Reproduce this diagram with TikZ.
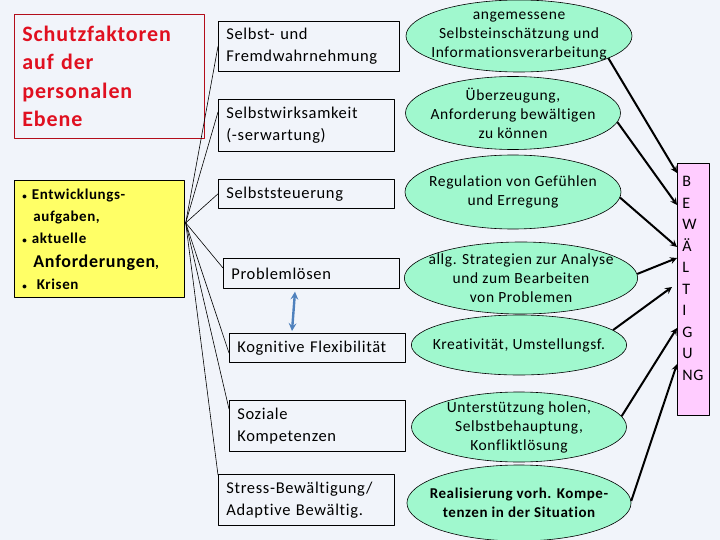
\documentclass[tikz,border=0pt]{standalone}
\usepackage{fontspec}
\setmainfont{Carlito}[LetterSpace=4,Ligatures=NoCommon]
\usetikzlibrary{shapes.geometric,calc}
\definecolor{grund}{RGB}{241,244,250}
\definecolor{minze}{RGB}{160,248,206}
\definecolor{gelb}{RGB}{255,255,102}
\definecolor{rosa}{RGB}{255,204,255}
\definecolor{titelrot}{RGB}{224,16,32}
\definecolor{stahlblau}{RGB}{79,129,189}
\begin{document}
\begin{tikzpicture}[x=1pt,y=-1pt,>=stealth,line join=round,
	kasten/.style n args={3}{draw,line width=0.7pt,fill=grund,anchor=north west,align=left,
		inner xsep=8pt,inner ysep=0pt,minimum width=#1pt,minimum height=#2pt,text width=#3pt,
		font=\fontsize{16.5}{22}\selectfont},
	oval/.style={ellipse,draw,line width=0.6pt,fill=minze,inner sep=-10pt,align=center,
		font=\fontsize{15.5}{19}\selectfont},
	pfeil/.style={->,line width=2pt},
	linie/.style={line width=0.6pt}]
	\fill[grund] (0,0) rectangle (720,540);
	\useasboundingbox (0,0) rectangle (720,540);
	% linke Spalte
	\node[draw=titelrot!80!black,line width=0.7pt,anchor=north west,align=left,inner xsep=8pt,
		minimum width=190pt,minimum height=124pt,text width=174pt,text=titelrot,
		font=\bfseries\fontsize{22}{28.5}\selectfont] (titel) at (14,14)
		{Schutzfaktoren\\auf der\\personalen\\Ebene};
	\node[draw,line width=0.7pt,fill=gelb,anchor=north west,align=left,inner xsep=8pt,
		minimum width=170pt,minimum height=117pt,text width=154pt,
		font=\bfseries\fontsize{15}{22}\selectfont] (anford) at (14,180)
		{{\small•} Entwicklungs-\\\hspace*{11pt}aufgaben,\\{\small•} aktuelle\\[2pt]
		\hspace*{11pt}{\fontsize{18}{22}\selectfont Anforderungen},\\{\small•} \ Krisen};
	% mittlere Spalte
	\node[kasten={181}{50}{165}] (b1) at (218,21) {Selbst- und\\Fremdwahrnehmung};
	\node[kasten={176}{52}{160}] (b2) at (218,99) {Selbstwirksamkeit\\(-serwartung)};
	\node[kasten={176}{29}{160}] (b3) at (218,179) {Selbststeuerung};
	\node[kasten={176}{30}{160}] (b4) at (223,258) {Problemlösen};
	\node[kasten={176}{29}{160}] (b5) at (229,333) {Kognitive Flexibilität};
	\node[kasten={176}{51}{160}] (b6) at (229,400) {Soziale\\Kompetenzen};
	\node[kasten={176}{51}{160}] (b7) at (218,474) {Stress-Bewältigung/\\Adaptive Bewältig.};
	\coordinate (knoten) at ($(anford.east)+(1,-16)$);
	\draw[linie] (knoten) -- (b1.west);
	\draw[linie] (knoten) -- ($(b2.north west)+(0,13)$);
	\draw[linie] (knoten) -- (b3.west);
	\draw[linie] (knoten) -- ($(b4.north west)+(0,10)$);
	\draw[linie] (knoten) -- ($(b5.north west)+(0,20)$);
	\draw[linie] (knoten) -- ($(b6.north west)+(0,9)$);
	\draw[linie] (knoten) -- ($(b7.north west)+(0,1)$);
	\draw[<->,line width=2.4pt,stahlblau] ($(b4.south west)+(72,3)$) -- ($(b5.north west)+(63,-2)$);
	% Ellipsen
	\node[oval,minimum width=226pt,minimum height=72pt] (e1) at (519,36)
		{angemessene\\Selbsteinschätzung und\\Informationsverarbeitung};
	\node[oval,minimum width=215pt,minimum height=73pt] (e2) at (513,113)
		{Überzeugung,\\Anforderung bewältigen\\zu können};
	\node[oval,minimum width=216pt,minimum height=74pt] (e3) at (513,192)
		{Regulation von Gefühlen\\und Erregung};
	\node[oval,minimum width=218pt,minimum height=72pt] (e4) at (521,278)
		{allg. Strategien zur Analyse\\und zum Bearbeiten\\von Problemen};
	\node[oval,minimum width=215pt,minimum height=60pt] (e5) at (519,345)
		{Kreativität, Umstellungsf.};
	\node[oval,minimum width=215pt,minimum height=70pt] (e6) at (519,427)
		{Unterstützung holen,\\Selbstbehauptung,\\Konfliktlösung};
	\node[oval,minimum width=215pt,minimum height=76pt,font=\bfseries\fontsize{15}{19}\selectfont] (e7) at (519,503)
		{Realisierung vorh. Kompe-\\tenzen in der Situation};
	% rechte Spalte
	\node[draw,line width=0.7pt,fill=rosa,anchor=north west,align=left,inner xsep=5pt,
		minimum width=30pt,minimum height=252pt,text width=22pt,
		font=\fontsize{16}{21.5}\selectfont] (bew) at (677,163)
		{B\\E\\W\\Ä\\L\\T\\I\\G\\U\\NG\\\mbox{}};
	\draw[pfeil] (e1.-14) -- ($(bew.north west)+(0,10)$);
	\draw[pfeil] (e2.-5) -- ($(bew.north west)+(0,42)$);
	\draw[pfeil] (e3.-3) -- ($(bew.north west)+(0,84)$);
	\draw[pfeil] (e4.2) -- ($(bew.north west)+(0,95)$);
	\draw[pfeil] (e5.9) -- ($(bew.north west)+(-5,124)$);
	\draw[pfeil] (e6.6) -- ($(bew.north west)+(0,165)$);
	\draw[pfeil] (e7.1) -- ($(bew.north west)+(0,201)$);
\end{tikzpicture}
\end{document}
